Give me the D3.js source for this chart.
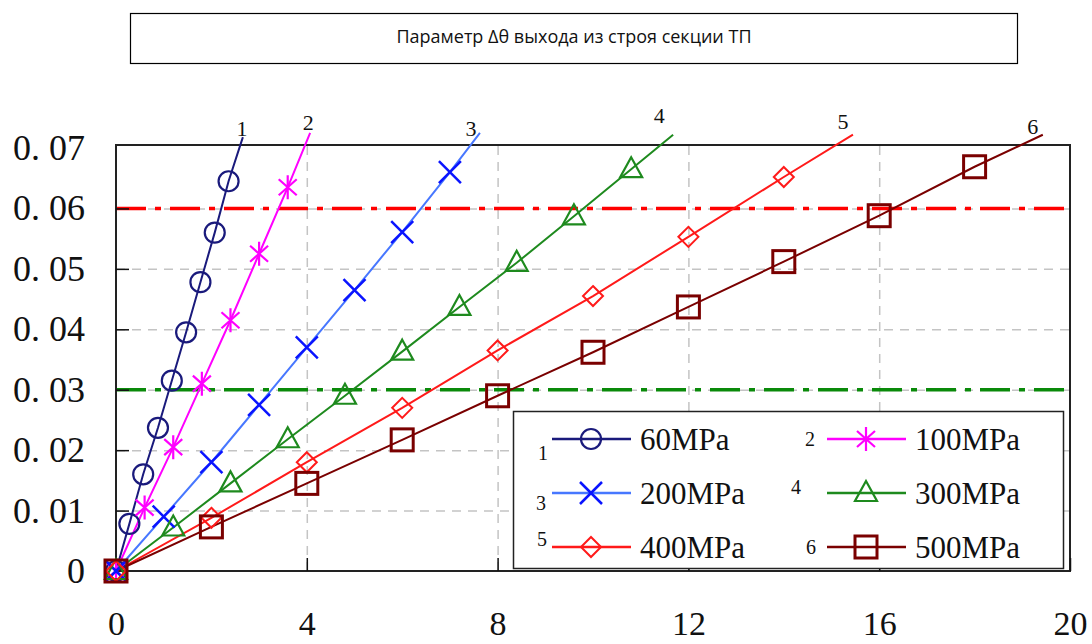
<!DOCTYPE html>
<html>
<head>
<meta charset="utf-8">
<script src="https://cdn.jsdelivr.net/npm/d3@7"></script>
<style>
  body { margin: 0; background: #fff; }
  svg { display: block; }
</style>
</head>
<body>
<svg id="chart" width="1092" height="644"></svg>
<script>
// chart values
const titleText = 'Параметр Δθ выхода из строя секции ТП';

const seriesNames = ['60MPa', '100MPa', '200MPa', '300MPa', '400MPa', '500MPa'];
const seriesIds = ['1', '2', '3', '4', '5', '6'];

const x60 = [0, 0.28, 0.57, 0.88, 1.17, 1.47, 1.77, 2.07, 2.36];
const y60 = [0, 0.0078, 0.0160, 0.0237, 0.0315, 0.0395, 0.0478, 0.0560, 0.0645];

const x100 = [0, 0.6, 1.2, 1.8, 2.4, 3.0, 3.6];
const y100 = [0, 0.0105, 0.0205, 0.0310, 0.0415, 0.0525, 0.0635];

const x200 = [0, 1, 2, 3, 4, 5, 6, 7];
const y200 = [0, 0.0090, 0.0180, 0.0275, 0.0370, 0.0465, 0.0561, 0.0660];

const x300 = [0, 1.2, 2.4, 3.6, 4.8, 6.0, 7.2, 8.4, 9.6, 10.8];
const y300 = [0, 0.0072, 0.0145, 0.0218, 0.0290, 0.0363, 0.0437, 0.0510, 0.0587, 0.0665];

const x400 = [0, 2, 4, 6, 8, 10, 12, 14];
const y400 = [0, 0.0088, 0.0180, 0.0270, 0.0365, 0.0455, 0.0553, 0.0652];

const x500 = [0, 2, 4, 6, 8, 10, 12, 14, 16, 18];
const y500 = [0, 0.0073, 0.0145, 0.0217, 0.0290, 0.0362, 0.0437, 0.0512, 0.0588, 0.0669];

// where each curve stops (above the frame)
const lineEndX = [2.66, 4.07, 7.63, 11.68, 15.45, 19.43];
const lineEndY = [0.0718, 0.0725, 0.0725, 0.0722, 0.0722, 0.0722];

const xTicks = [0, 4, 8, 12, 16, 20];
const yTicks = [0, 0.01, 0.02, 0.03, 0.04, 0.05, 0.06, 0.07];
const limitValues = [0.06, 0.03];

const seriesX = [x60, x100, x200, x300, x400, x500];
const seriesY = [y60, y100, y200, y300, y400, y500];

// styles
const lineColors = ['#1a1a7c', '#ff00ff', '#4777ff', '#1e8a1e', '#ff1a1a', '#7a0000'];
const markColors = ['#1a1a7c', '#ff00ff', '#0a14ff', '#1e8a1e', '#ff1a1a', '#7a0000'];
const markTypes = ['circle', 'star', 'cross', 'triangle', 'diamond', 'square'];
const limitColors = ['#ff0000', '#0a8a0a'];
const serif = '"Liberation Serif", "DejaVu Serif", serif';

// label nudges (px) for the curve numbers and legend numbers
const tipDx = [-1, -2, -9, -14, -10, -10];
const tipDy = [-1, -3, 3, -12, -6, -1];
const idOffset = [[-9, 14], [-17, 0], [-11, 10], [-31, -6], [-10, -8], [-16, 0]];

const svg = d3.select('#chart');

const x = d3.scaleLinear().domain([0, 20]).range([116, 1070]);
const y = d3.scaleLinear().domain([0, 0.0705]).range([571, 145]);

// title box
svg.append('rect')
    .attr('x', 130.5).attr('y', 13.5)
    .attr('width', 887).attr('height', 50)
    .attr('fill', '#fff')
    .attr('stroke', '#000')
    .attr('stroke-width', 1.2);

svg.append('text')
    .attr('x', 574).attr('y', 37)
    .attr('dy', '0.35em')
    .attr('text-anchor', 'middle')
    .style('font-family', '"Open Sans", "Noto Sans", sans-serif')
    .style('font-size', '18px')
    .attr('fill', '#111')
    .text(titleText);

// grid
const gridX = svg.append('g')
    .attr('transform', `translate(0,${y.range()[0]})`)
    .call(d3.axisBottom(x).tickValues([4, 8, 12, 16])
        .tickSize(-(y.range()[0] - y.range()[1])).tickFormat(''));
gridX.select('.domain').remove();
gridX.selectAll('line').attr('stroke', '#c4c4c4').attr('stroke-width', 1.5)
    .attr('stroke-dasharray', '9,7');

const gridY = svg.append('g')
    .attr('transform', `translate(${x.range()[0]},0)`)
    .call(d3.axisLeft(y).tickValues([0.01, 0.02, 0.03, 0.04, 0.05, 0.06])
        .tickSize(-(x.range()[1] - x.range()[0])).tickFormat(''));
gridY.select('.domain').remove();
gridY.selectAll('line').attr('stroke', '#c4c4c4').attr('stroke-width', 1.5)
    .attr('stroke-dasharray', '9,7');

// dash-dot limit lines
svg.selectAll('.limit').data(limitValues).enter()
    .append('line')
    .attr('class', 'limit')
    .attr('x1', x(0)).attr('x2', x(20))
    .attr('y1', d => y(d)).attr('y2', d => y(d))
    .attr('stroke', (d, i) => limitColors[i])
    .attr('stroke-width', 3.5)
    .attr('stroke-dasharray', '30,9,6,9');

// frame
svg.append('rect')
    .attr('x', x(0)).attr('y', y(0.0705))
    .attr('width', x(20) - x(0)).attr('height', y(0) - y(0.0705))
    .attr('fill', 'none')
    .attr('stroke', '#222')
    .attr('stroke-width', 2);

// axes with inner ticks
const xAxis = svg.append('g')
    .attr('transform', `translate(0,${y(0)})`)
    .call(d3.axisBottom(x).tickValues(xTicks).tickSizeInner(-13).tickSizeOuter(0)
        .tickPadding(40).tickFormat(d => d));
xAxis.select('.domain').remove();
xAxis.selectAll('line').attr('stroke', '#111').attr('stroke-width', 1.5);
xAxis.selectAll('text')
    .style('font-family', serif).style('font-size', '34px').attr('fill', '#111');

const yAxis = svg.append('g')
    .attr('transform', `translate(${x(0)},0)`)
    .call(d3.axisLeft(y).tickValues(yTicks).tickSizeInner(-13).tickSizeOuter(0)
        .tickPadding(31).tickFormat(d => d === 0 ? '0' : '0. 0' + Math.round(d * 100)));
yAxis.select('.domain').remove();
yAxis.selectAll('line').attr('stroke', '#111').attr('stroke-width', 1.5)
    .filter(d => d === 0 || d === 0.07).remove();
yAxis.selectAll('text')
    .style('font-family', serif).style('font-size', '36px').attr('fill', '#111');

// marker drawing
function drawMarker(g, type, color) {
    const s = g.append('g').attr('fill', 'none').attr('stroke', color);
    if (type === 'circle') {
        s.append('circle').attr('r', 10).attr('stroke-width', 2.2);
    } else if (type === 'star') {
        s.attr('stroke-width', 2.2);
        s.append('path').attr('d', 'M-9,-8L9,8M-9,8L9,-8M0,-12L0,12');
    } else if (type === 'cross') {
        s.attr('stroke-width', 2.5);
        s.append('path').attr('d', 'M-11,-11L11,11M-11,11L11,-11');
    } else if (type === 'triangle') {
        s.attr('stroke-width', 2.2);
        s.append('path').attr('d', 'M0,-12L11,8L-11,8Z');
    } else if (type === 'diamond') {
        s.attr('stroke-width', 2);
        s.append('path').attr('d', 'M0,-10L10,0L0,10L-10,0Z');
    } else if (type === 'square') {
        s.attr('stroke-width', 3);
        s.append('rect').attr('x', -11).attr('y', -11).attr('width', 22).attr('height', 22);
    }
}

// series
const line = d3.line().x(d => x(d[0])).y(d => y(d[1]));
seriesIds.forEach((id, i) => {
    const pts = seriesX[i].map((v, k) => [v, seriesY[i][k]]);
    pts.push([lineEndX[i], lineEndY[i]]);
    svg.append('path')
        .datum(pts)
        .attr('fill', 'none')
        .attr('stroke', lineColors[i])
        .attr('stroke-width', 2)
        .attr('d', line);
});

seriesIds.forEach((id, i) => {
    seriesX[i].forEach((v, k) => {
        const g = svg.append('g')
            .attr('transform', `translate(${x(v)},${y(seriesY[i][k])})`);
        drawMarker(g, markTypes[i], markColors[i]);
    });
    svg.append('text')
        .attr('x', x(lineEndX[i]) + tipDx[i])
        .attr('y', y(lineEndY[i]) + tipDy[i])
        .attr('text-anchor', 'middle')
        .style('font-family', serif).style('font-size', '22px')
        .attr('fill', '#111')
        .text(id);
});

// legend
const legend = svg.append('g');
legend.append('rect')
    .attr('x', 513.5).attr('y', 411.5)
    .attr('width', 550).attr('height', 157)
    .attr('fill', '#fff')
    .attr('stroke', '#222')
    .attr('stroke-width', 1.5);

const legendCol = [552, 827];
const legendRow = [439, 493, 547];

seriesNames.forEach((name, i) => {
    const cx = legendCol[i % 2];
    const cy = legendRow[Math.floor(i / 2)];
    const item = legend.append('g').attr('transform', `translate(${cx},${cy})`);
    item.append('line')
        .attr('x1', 0).attr('x2', 79)
        .attr('stroke', lineColors[i])
        .attr('stroke-width', 2.5);
    drawMarker(item.append('g').attr('transform', 'translate(39,0)'), markTypes[i], markColors[i]);
    item.append('text')
        .attr('x', idOffset[i][0]).attr('y', idOffset[i][1])
        .attr('text-anchor', 'middle')
        .attr('dy', '0.35em')
        .style('font-family', serif).style('font-size', '20px')
        .attr('fill', '#111')
        .text(seriesIds[i]);
    item.append('text')
        .attr('x', 88).attr('dy', '0.35em')
        .style('font-family', serif).style('font-size', '31px')
        .attr('fill', '#111')
        .text(name);
});
</script>
</body>
</html>
